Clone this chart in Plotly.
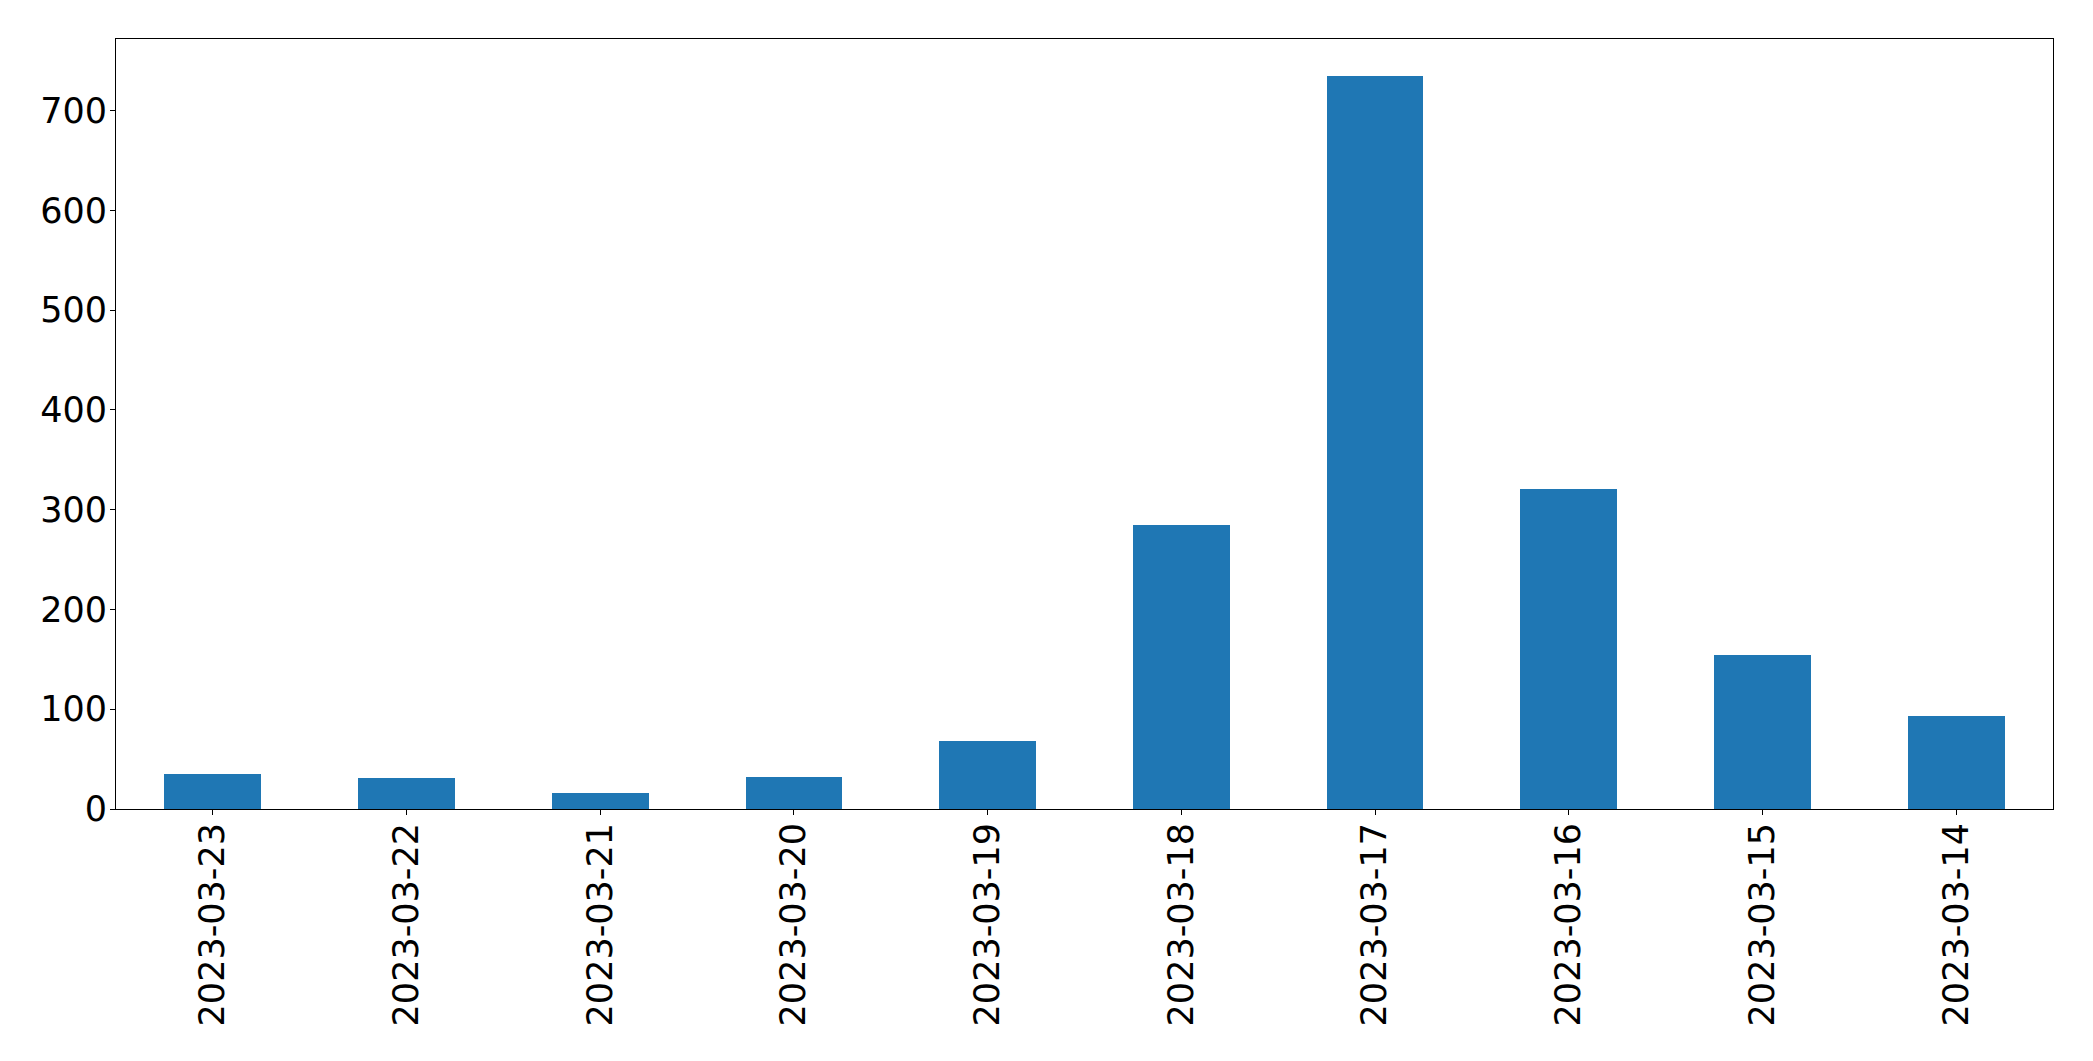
import plotly.graph_objects as go

dates = ["2023-03-23", "2023-03-22", "2023-03-21", "2023-03-20", "2023-03-19",
         "2023-03-18", "2023-03-17", "2023-03-16", "2023-03-15", "2023-03-14"]
counts = [35, 31, 16, 32, 68, 285, 735, 321, 154, 93]
y_ticks = [0, 100, 200, 300, 400, 500, 600, 700]

fig = go.Figure(go.Bar(x=dates, y=counts, width=0.5, marker=dict(color="#1f77b4", line=dict(width=0))))

fig.update_layout(
    width=2077, height=1045, autosize=False,
    margin=dict(l=108, r=32, t=31, b=244, pad=0),
    plot_bgcolor="white", paper_bgcolor="white",
    font=dict(family="DejaVu Sans", size=35, color="black"),
    showlegend=False,
    bargap=0,
)
fig.update_xaxes(
    type="category", range=[-0.5, 9.5], tickangle=-90,
    ticks="outside", ticklen=5, tickwidth=1, tickcolor="black",
    ticklabelstandoff=-6,
    showline=True, linecolor="black", linewidth=1, mirror=True,
    showgrid=False, zeroline=False,
    tickfont=dict(family="DejaVu Sans", size=35, color="black"),
)
fig.update_yaxes(
    range=[0, max(counts) * 1.05], tickvals=y_ticks,
    ticks="outside", ticklen=5, tickwidth=1, tickcolor="black",
    ticklabelstandoff=-4,
    showline=True, linecolor="black", linewidth=1, mirror=True,
    showgrid=False, zeroline=False,
    tickfont=dict(family="DejaVu Sans", size=35, color="black"),
)

fig.write_html("out.html")
